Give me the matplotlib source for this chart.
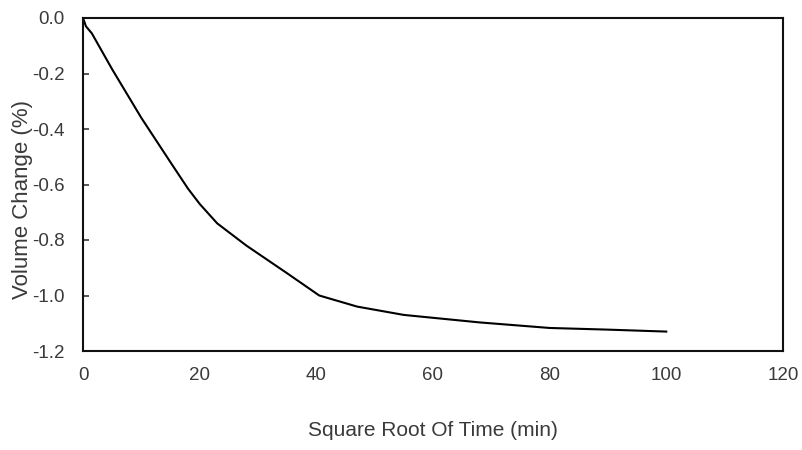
import matplotlib
matplotlib.use('Agg')
import matplotlib.pyplot as plt

# 字体设置
matplotlib.rcParams['font.family'] = ['Liberation Sans', 'DejaVu Sans']
matplotlib.rcParams['font.size'] = 13.5

# 数据
sqrt_time = [0, 0.5, 1.5, 5, 10, 15, 18, 20, 23, 28, 35, 40.5, 47, 55, 68, 80, 90, 100]
volume_change = [0, -0.03, -0.055, -0.185, -0.36, -0.52, -0.615, -0.67, -0.74,
                 -0.82, -0.92, -1.0, -1.04, -1.07, -1.097, -1.117, -1.123, -1.13]

x_ticks = [0, 20, 40, 60, 80, 100, 120]
y_ticks = [0.0, -0.2, -0.4, -0.6, -0.8, -1.0, -1.2]

text_color = '#3a3a3a'

fig = plt.figure(figsize=(8.03, 4.5), dpi=100)
ax = fig.add_axes([0.1034, 0.22, 0.8716, 0.74])

ax.plot(sqrt_time, volume_change, color='black', linewidth=1.5)

ax.set_xlim(0, 120)
ax.set_ylim(-1.2, 0.0)
ax.set_xticks(x_ticks)
ax.set_yticks(y_ticks)
ax.set_yticklabels([f'{v:.1f}' for v in y_ticks])

ax.tick_params(axis='y', direction='in', length=4, width=1.2, pad=13.5, colors=text_color)
ax.tick_params(axis='x', length=0, pad=11.5, colors=text_color)

for spine in ax.spines.values():
    spine.set_linewidth(1.5)
    spine.set_color('#111111')

ax.set_xlabel('Square Root Of Time (min)', color=text_color, fontsize=15, labelpad=27)
ax.set_ylabel('Volume Change (%)', color=text_color, fontsize=16)
ax.yaxis.set_label_coords(-0.0714, 0.456)

plt.savefig('out.png', dpi=100)
plt.close()
